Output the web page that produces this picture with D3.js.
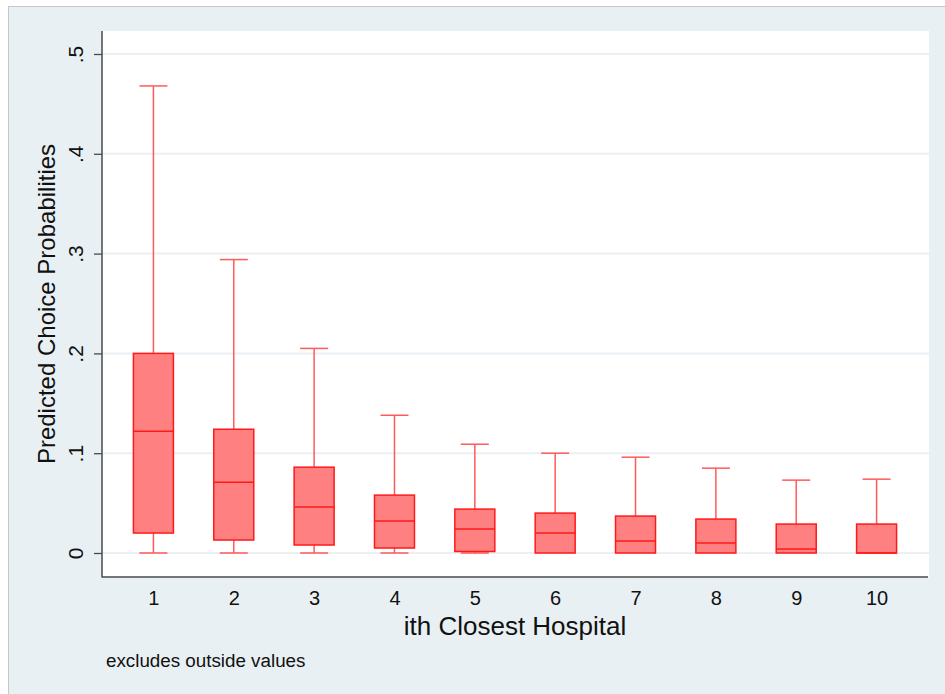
<!DOCTYPE html>
<html>
<head>
<meta charset="utf-8">
<script src="https://cdn.jsdelivr.net/npm/d3@7"></script>
<style>
  body { margin: 0; background: #ffffff; }
  svg { display: block; font-family: "Liberation Sans", Arial, sans-serif; }
</style>
</head>
<body>
<div id="chart"></div>
<script>
const hospitals = ["1", "2", "3", "4", "5", "6", "7", "8", "9", "10"];
const whiskerLow = [0, 0, 0, 0, 0, 0, 0, 0, 0, 0];
const q1 = [0.020, 0.013, 0.008, 0.005, 0.0015, 0, 0, 0, 0, 0];
const median = [0.122, 0.071, 0.046, 0.032, 0.024, 0.020, 0.012, 0.010, 0.004, 0];
const q3 = [0.200, 0.124, 0.086, 0.058, 0.044, 0.040, 0.037, 0.034, 0.029, 0.029];
const whiskerHigh = [0.468, 0.294, 0.205, 0.138, 0.109, 0.100, 0.096, 0.085, 0.073, 0.074];
const yTicks = [0, 0.1, 0.2, 0.3, 0.4, 0.5];
const yTickLabels = ["0", ".1", ".2", ".3", ".4", ".5"];

const W = 945, H = 694;
const plot = { left: 102, right: 929, top: 31, bottom: 577 };

const svg = d3.select("#chart").append("svg")
    .attr("width", W)
    .attr("height", H);

// outer graph region
svg.append("rect")
    .attr("x", 8.5).attr("y", 6.5)
    .attr("width", W).attr("height", H)
    .style("fill", "#e8f0f3")
    .style("stroke", "#c4c8ca");

// plot region
svg.append("rect")
    .attr("x", plot.left).attr("y", plot.top)
    .attr("width", plot.right - plot.left).attr("height", plot.bottom - plot.top)
    .style("fill", "#ffffff");

const xScale = d3.scalePoint()
    .domain(hospitals)
    .range([plot.left, plot.right - 1])
    .padding(0.64);

const yScale = d3.scaleLinear()
    .domain([0, 0.5])
    .range([553, 54]);

// gridlines
svg.append("g").selectAll("line")
    .data(yTicks)
    .enter().append("line")
    .attr("x1", plot.left)
    .attr("x2", plot.right)
    .attr("y1", d => yScale(d))
    .attr("y2", d => yScale(d))
    .style("stroke", "#eaf0f3")
    .style("stroke-width", 2);

const boxW = 40, capW = 26;
const data = hospitals.map((h, i) => ({
    h: h, lo: whiskerLow[i], q1: q1[i], med: median[i], q3: q3[i], hi: whiskerHigh[i]
}));

const boxes = svg.append("g").selectAll("g")
    .data(data)
    .enter().append("g")
    .attr("transform", d => `translate(${xScale(d.h)},0)`);

const whiskerColor = "#ff5a5a";
const boxColor = "#ff1a1a";

// upper whisker + cap
boxes.append("line")
    .attr("x1", 0).attr("x2", 0)
    .attr("y1", d => yScale(d.q3)).attr("y2", d => yScale(d.hi))
    .style("stroke", whiskerColor).style("stroke-width", 1.5);
boxes.append("line")
    .attr("x1", -capW / 2 - 1).attr("x2", capW / 2 + 1)
    .attr("y1", d => yScale(d.hi)).attr("y2", d => yScale(d.hi))
    .style("stroke", whiskerColor).style("stroke-width", 1.5);

// lower whisker + cap (only where below q1)
const lower = boxes.filter(d => d.q1 > d.lo);
lower.append("line")
    .attr("x1", 0).attr("x2", 0)
    .attr("y1", d => yScale(d.q1)).attr("y2", d => yScale(d.lo))
    .style("stroke", whiskerColor).style("stroke-width", 1.5);
lower.append("line")
    .attr("x1", -capW / 2 - 1).attr("x2", capW / 2 + 1)
    .attr("y1", d => yScale(d.lo)).attr("y2", d => yScale(d.lo))
    .style("stroke", whiskerColor).style("stroke-width", 1.5);

// box
boxes.append("rect")
    .attr("x", -boxW / 2)
    .attr("width", boxW)
    .attr("y", d => yScale(d.q3))
    .attr("height", d => yScale(d.q1) - yScale(d.q3))
    .style("fill", "#ff8080")
    .style("stroke", boxColor)
    .style("stroke-width", 1.5);

// median
boxes.append("line")
    .attr("x1", -boxW / 2).attr("x2", boxW / 2)
    .attr("y1", d => yScale(d.med)).attr("y2", d => yScale(d.med))
    .style("stroke", boxColor).style("stroke-width", 1.5);

// y axis
const yAxis = d3.axisLeft(yScale)
    .tickValues(yTicks)
    .tickFormat((d, i) => yTickLabels[i])
    .tickSize(8)
    .tickSizeOuter(0);

const yg = svg.append("g")
    .attr("transform", `translate(${plot.left},0)`)
    .call(yAxis);
yg.select(".domain").remove();
yg.append("line")
    .attr("x1", 0).attr("x2", 0)
    .attr("y1", plot.top).attr("y2", plot.bottom + 0.5)
    .style("stroke", "#4a4a4a").style("stroke-width", 1.5);
yg.selectAll(".tick line").style("stroke", "#4a4a4a").style("stroke-width", 1.3);
yg.selectAll(".tick text")
    .attr("x", 0).attr("y", 0)
    .attr("dy", 0)
    .attr("transform", "translate(-19,0) rotate(-90)")
    .attr("text-anchor", "middle")
    .style("font-size", "21px")
    .style("fill", "#111");

// x axis (labels only)
const xAxis = d3.axisBottom(xScale).tickSize(0).tickPadding(0);
const xg = svg.append("g")
    .attr("transform", `translate(0,${plot.bottom})`)
    .call(xAxis);
xg.select(".domain").remove();
xg.append("line")
    .attr("x1", plot.left).attr("x2", plot.right - 1)
    .attr("y1", 0).attr("y2", 0)
    .style("stroke", "#4a4a4a").style("stroke-width", 1.5);
xg.selectAll(".tick text")
    .attr("y", 28)
    .attr("dy", 0)
    .style("font-size", "20px")
    .style("fill", "#111");

// titles
svg.append("text")
    .attr("x", 515)
    .attr("y", 635)
    .attr("text-anchor", "middle")
    .style("font-size", "26px")
    .style("fill", "#111")
    .text("ith Closest Hospital");

svg.append("text")
    .attr("transform", `translate(55,${(plot.top + plot.bottom) / 2}) rotate(-90)`)
    .attr("text-anchor", "middle")
    .style("font-size", "24px")
    .style("fill", "#111")
    .text("Predicted Choice Probabilities");

svg.append("text")
    .attr("x", 106)
    .attr("y", 667)
    .style("font-size", "18.8px")
    .style("fill", "#111")
    .text("excludes outside values");
</script>
</body>
</html>
